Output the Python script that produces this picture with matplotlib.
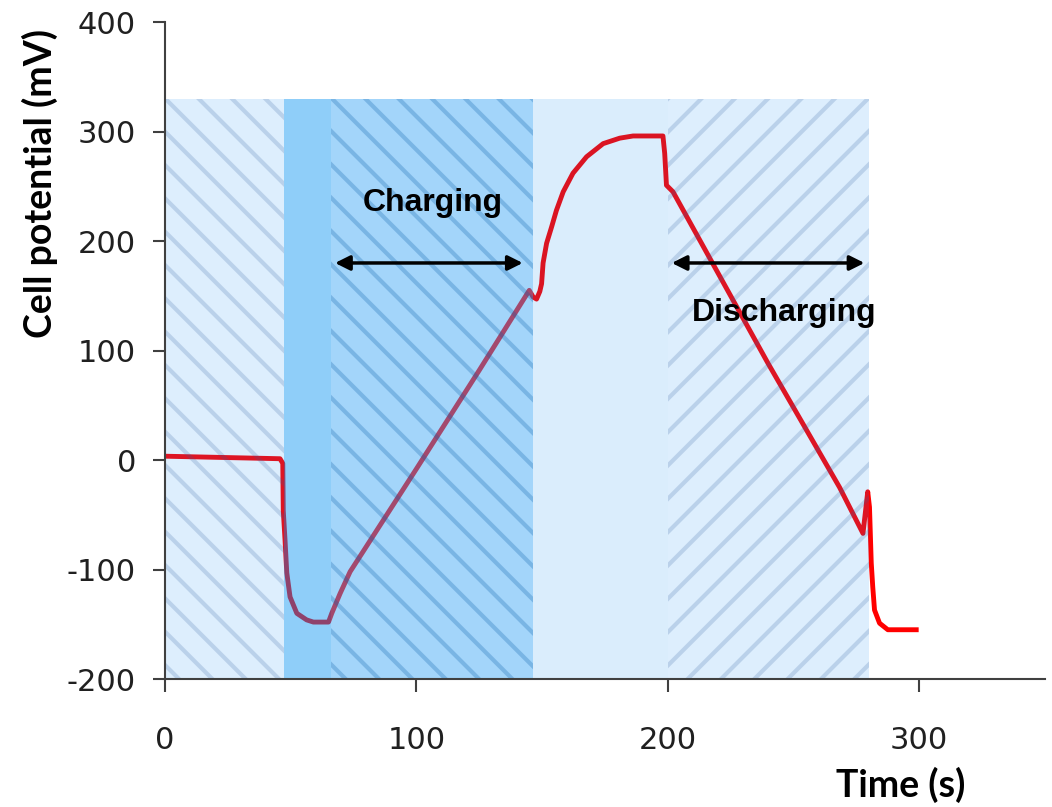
import matplotlib
matplotlib.use("Agg")
import matplotlib.pyplot as plt

# cell potential trace (time in s, potential in mV)
time_s = [0, 10, 20, 30, 40, 45.7, 46.8, 47, 47.7, 48.4, 49.7, 52.4, 56.3, 59, 65,
          66.3, 69.6, 73.6, 100, 125, 144.9, 146.4, 147.8, 149.1, 149.8, 150.4,
          151.8, 153.8, 155.7, 158.4, 162.3, 167.7, 174.3, 180.9, 186.2, 198.1,
          198.8, 199.5, 202.1, 240, 268.4, 277.7, 279.6, 280.3, 281, 281.6, 282.3,
          284.3, 287.6, 298.9]
potential_mv = [3.5, 3, 2.5, 2, 1.5, 1.2, -3, -46, -73, -103, -125, -140, -146, -148, -148,
                -140, -122, -102, -8, 82, 155, 149, 147, 154, 161, 180,
                198, 213, 228, 245, 262, 277, 289, 294, 296, 296,
                280, 251, 245, 88, -25, -67, -29, -43, -94, -116, -137,
                -149, -155, -155]

# shaded phases
span_edges = [0, 47.3, 66, 146.3, 200, 280.3]
span_top = 330
span_face = [(0.11, 0.56, 0.95, 0.15), (0.03, 0.58, 0.95, 0.45), (0.20, 0.64, 0.96, 0.45),
             (0.03, 0.53, 0.92, 0.15), (0.11, 0.56, 0.95, 0.15)]
span_hatch = ['\\', '', '\\', '', '/']
span_hatch_col = [(0.19, 0.37, 0.62, 0.2), (0, 0, 0, 0), (0.04, 0.38, 0.67, 0.27),
                  (0, 0, 0, 0), (0.19, 0.37, 0.62, 0.2)]

plt.rcParams['hatch.linewidth'] = 3
plt.rcParams['axes.unicode_minus'] = False

fig = plt.figure(figsize=(10.52, 8.07), dpi=100)
ax = fig.add_axes([0.157, 0.1586, 0.836, 0.814])

ax.plot(time_s, potential_mv, color='#ff0000', lw=3.5, zorder=2, solid_joinstyle='round')

for i in range(len(span_face)):
    x0, x1 = span_edges[i], span_edges[i + 1]
    ax.bar(x0, span_top + 200, width=x1 - x0, bottom=-200, align='edge',
           facecolor=span_face[i], edgecolor=span_hatch_col[i], hatch=span_hatch[i] or None,
           linewidth=0, zorder=3)

arrow = dict(arrowstyle='<|-|>', color='black', lw=2.5, mutation_scale=22, shrinkA=0, shrinkB=0)
ax.annotate('', xy=(142.3, 180), xytext=(67.6, 180), arrowprops=arrow, zorder=5)
ax.annotate('', xy=(278.3, 180), xytext=(201.6, 180), arrowprops=arrow, zorder=5)
ax.text(106.4, 235, 'Charging', ha='center', va='center', fontsize=23,
        fontweight='bold', family='Liberation Sans', zorder=5)
ax.text(246.5, 134, 'Discharging', ha='center', va='center', fontsize=23,
        fontweight='bold', family='Liberation Sans', zorder=5)

ax.set_xlim(0, 350)
ax.set_ylim(-200, 400)
ax.set_xticks([0, 100, 200, 300])
ax.set_yticks([-200, -100, 0, 100, 200, 300, 400])
ax.tick_params(direction='out', length=9, width=1.5, color='#404040',
               labelsize=22, labelcolor='#202020')
ax.tick_params(axis='x', pad=25)
ax.tick_params(axis='y', pad=12)
for s in ['top', 'right']:
    ax.spines[s].set_visible(False)
for s in ['left', 'bottom']:
    ax.spines[s].set_color('#404040')
    ax.spines[s].set_linewidth(1.5)
    ax.spines[s].set_zorder(6)

fig.text(40 / 1052, 1 - 184 / 807, 'Cell potential (mV)', rotation=90, ha='center',
         va='center', fontsize=27, fontweight='bold', family='Lato')
fig.text(901 / 1052, 1 - 785 / 807, 'Time (s)', ha='center', va='center',
         fontsize=27, fontweight='bold', family='Lato')

fig.savefig('out.png', dpi=100)
